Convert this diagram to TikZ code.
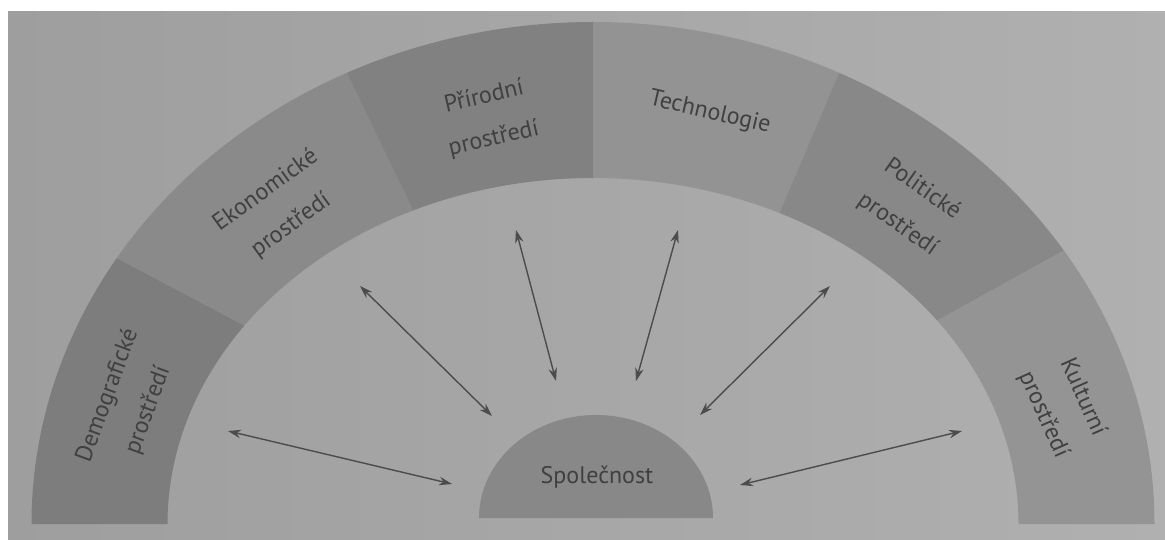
\documentclass[tikz,border=0pt]{standalone}
\usepackage{fontspec}
\setmainfont{PT Sans}
\usetikzlibrary{arrows.meta}

% paper and ring tones
\definecolor{paperleft}{gray}{0.62}
\definecolor{paperright}{gray}{0.69}
\definecolor{segdemo}{gray}{0.49}
\definecolor{segeko}{gray}{0.54}
\definecolor{segpri}{gray}{0.505}
\definecolor{segtech}{gray}{0.575}
\definecolor{segpol}{gray}{0.535}
\definecolor{segkul}{gray}{0.58}
\definecolor{socfill}{gray}{0.535}
\definecolor{inkgray}{gray}{0.25}
\definecolor{arrowgray}{gray}{0.30}

\tikzset{
  lab/.style={text=inkgray, align=center, inner sep=0pt,
              font=\fontsize{24}{43}\selectfont},
  link/.style={draw=arrowgray, line width=1.4pt,
               {Stealth[length=13pt,width=8.5pt]}-{Stealth[length=13pt,width=8.5pt]}}
}

\begin{document}
\begin{tikzpicture}[x=1pt,y=1pt]
\useasboundingbox (0,0) rectangle (1165,539);
\fill[white] (0,0) rectangle (1165,539);
\shade[left color=paperleft, right color=paperright] (8,0) rectangle (1165,527);

% ring segments: outer start/end angle, inner start/end angle, colour
\foreach \ao/\bo/\ai/\bi/\col in {180/148/180/145/segdemo,
                                  148/116/145/115/segeko,
                                  116/90/115/90/segpri,
                                  90/64/90/64/segtech,
                                  64/33/64/36/segpol,
                                  33/0/36/0/segkul}{
  \fill[\col] ({593+561.5*cos(\ao)},{15+502*sin(\ao)})
      arc[start angle=\ao, end angle=\bo, x radius=561.5pt, y radius=502pt]
      -- ({593+425.5*cos(\bi)},{15+346*sin(\bi)})
      arc[start angle=\bi, end angle=\ai, x radius=425.5pt, y radius=346pt]
      -- cycle;
}

% society half-disc
\fill[socfill] (479,21) arc[start angle=180, end angle=0, x radius=117pt, y radius=103pt] -- cycle;
\node[lab] (spol) at (597,62) {Společnost};

% ring labels
\node[lab, rotate=70]  (demo) at (128,136)   {Demografické\\prostředí};
\node[lab, rotate=36]  (eko)  at (278.5,331) {Ekonomické\\prostředí};
\node[lab, rotate=13]  (pri)  at (489,421)   {Přírodní\\prostředí};
\node[lab, rotate=-13] (tech) at (710,426)   {Technologie};
\node[lab, rotate=-35] (pol)  at (910,332)   {Politické\\prostředí};
\node[lab, rotate=-66] (kul)  at (1063,133)  {Kulturní\\prostředí};

% arrow ends
\coordinate (o1) at (228,108); \coordinate (i1) at (452,55);
\coordinate (o2) at (360,253); \coordinate (i2) at (492,123);
\coordinate (o3) at (516,309); \coordinate (i3) at (556,158);
\coordinate (o4) at (678,309); \coordinate (i4) at (636,158);
\coordinate (o5) at (830,253); \coordinate (i5) at (700,124);
\coordinate (o6) at (962,108); \coordinate (i6) at (740,54);

\foreach \k in {1,...,6}{
  \draw[link] (o\k) -- (i\k);
}
\end{tikzpicture}
\end{document}
